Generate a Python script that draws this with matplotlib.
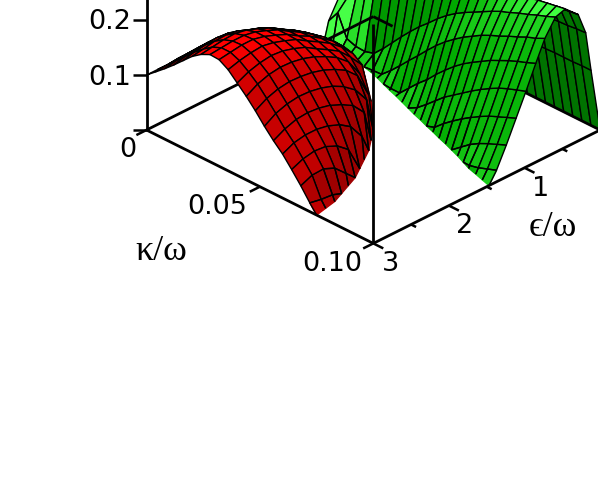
import numpy as np
import matplotlib
matplotlib.use('Agg')
import matplotlib.pyplot as plt
from mpl_toolkits.mplot3d import proj3d
from mpl_toolkits.mplot3d.art3d import Poly3DCollection, Line3DCollection

# green sheet: one row per kappa, values along the green_eps lines and a last 0 on the edge
green_kappa = [0.000, 0.004, 0.008, 0.012, 0.016, 0.020, 0.024, 0.028, 0.032, 0.036, 0.040, 0.044, 0.048,
               0.052, 0.056, 0.060, 0.064, 0.068, 0.072, 0.076, 0.080, 0.084, 0.088, 0.092, 0.096, 0.100]
green_eps = [0.00, 0.12, 0.19, 0.29, 0.46, 0.59, 0.73, 0.85, 0.98, 1.11, 1.24, 1.37, 1.50]
green_edge = [0.650, 0.660, 0.675, 0.690, 0.705, 0.725, 0.750, 0.785, 0.825, 0.865, 0.900, 0.940, 0.980,
              1.020, 1.055, 1.095, 1.130, 1.170, 1.205, 1.245, 1.285, 1.330, 1.375, 1.405, 1.438, 1.470]
green_z = [
    [0, .100, .118, .105, .065, .033, 0],
    [0, .098, .116, .105, .075, .056, 0],
    [0, .098, .116, .108, .088, .017, 0],
    [0, .099, .118, .115, .100, .011, 0],
    [0, .100, .120, .122, .115, .010, 0],
    [0, .101, .124, .130, .130, .015, 0],
    [0, .102, .128, .140, .140, .032, .002, 0],
    [0, .104, .133, .150, .150, .051, .003, 0],
    [0, .106, .140, .160, .165, .070, .018, 0],
    [0, .107, .146, .168, .175, .088, .035, .002, 0],
    [0, .108, .152, .176, .185, .105, .053, .002, 0],
    [0, .109, .156, .182, .192, .120, .070, .019, 0],
    [0, .110, .160, .186, .198, .136, .088, .036, 0],
    [0, .111, .164, .190, .204, .150, .105, .051, .009, 0],
    [0, .112, .167, .194, .210, .162, .120, .069, .023, 0],
    [0, .113, .170, .198, .215, .172, .133, .085, .038, 0],
    [0, .113, .173, .202, .219, .181, .145, .100, .053, .007, 0],
    [0, .114, .176, .206, .223, .190, .155, .113, .065, .022, 0],
    [0, .114, .178, .210, .227, .199, .165, .124, .077, .035, 0],
    [0, .115, .180, .213, .231, .207, .173, .134, .089, .047, 0],
    [0, .115, .182, .216, .235, .213, .180, .144, .100, .058, .013, 0],
    [0, .116, .184, .219, .239, .220, .188, .152, .110, .068, .026, 0],
    [0, .116, .186, .222, .243, .226, .195, .160, .119, .077, .036, .005, 0],
    [0, .116, .187, .225, .246, .233, .203, .167, .126, .084, .044, .009, 0],
    [0, .117, .189, .228, .249, .239, .209, .173, .132, .091, .051, .015, 0],
    [0, .117, .190, .230, .252, .246, .217, .180, .138, .098, .058, .021, 0],
]

# red sheet: one row per eps, values at kappa = 0, 0.004 ... and a last 0 on the edge
red_eps = [0.60, 0.75, 0.90, 1.05, 1.20, 1.35, 1.50, 1.65, 1.80, 1.95, 2.10, 2.25, 2.40, 2.55, 2.70, 2.85, 3.00]
red_kappa = [0.000, 0.004, 0.008, 0.012, 0.016, 0.020, 0.024, 0.028, 0.032, 0.036, 0.040, 0.044, 0.048,
             0.052, 0.056, 0.060, 0.064, 0.068, 0.072, 0.076]
red_edge = [0.000, 0.012, 0.022, 0.031, 0.039, 0.045, 0.050, 0.054, 0.058, 0.061, 0.064, 0.067, 0.069,
            0.071, 0.073, 0.074, 0.075]
red_z = [
    [0],
    [.015, .018, .018, 0],
    [.030, .035, .039, .041, .042, .030, 0],
    [.040, .046, .052, .057, .060, .062, .058, .040, 0],
    [.050, .058, .065, .071, .076, .081, .083, .081, .076, .050, 0],
    [.060, .069, .078, .086, .094, .099, .103, .105, .104, .100, .088, .030, 0],
    [.070, .080, .090, .100, .109, .116, .120, .124, .125, .122, .112, .090, .060, 0],
    [.078, .089, .100, .111, .121, .130, .135, .139, .140, .139, .133, .122, .105, .070, 0],
    [.085, .097, .109, .121, .133, .142, .148, .153, .154, .152, .146, .140, .125, .098, .065, 0],
    [.088, .102, .117, .131, .144, .155, .161, .165, .165, .164, .158, .152, .137, .114, .088, .040, 0],
    [.092, .108, .123, .139, .153, .165, .173, .178, .178, .177, .171, .162, .146, .125, .100, .068, 0],
    [.095, .112, .129, .145, .160, .172, .182, .187, .187, .185, .179, .169, .152, .132, .109, .082, .045, 0],
    [.100, .118, .136, .152, .168, .180, .190, .195, .195, .192, .185, .173, .155, .136, .114, .090, .062, .020, 0],
    [.100, .118, .136, .153, .170, .183, .194, .199, .200, .196, .187, .174, .156, .137, .116, .094, .071, .040, 0],
    [.100, .118, .135, .151, .167, .182, .193, .199, .200, .194, .184, .171, .153, .134, .114, .094, .073, .049, .010, 0],
    [.100, .116, .132, .148, .164, .178, .190, .197, .197, .190, .178, .164, .146, .127, .107, .090, .069, .048, .012, 0],
    [.100, .114, .128, .143, .159, .175, .187, .195, .194, .184, .168, .152, .134, .114, .096, .080, .060, .039, .016, 0],
]

kappa_ticks = [0.0, 0.05, 0.10]
eps_major = [0, 1, 2, 3]
eps_minor = [0.5, 1.5, 2.5]
z_ticks = [0.0, 0.1, 0.2]

SCALE = np.array([321 / 3, 321 / 0.1, 635])
VIEW = np.array([0.612, 0.612, 0.5])
LIGHT = np.array([0.0, -0.3, 0.95])


def green_shade(dot, under, kappa):
    if kappa < 0.008:
        return (0.28, 1, 0.28)
    if kappa < 0.014:
        return (0.16, 0.88, 0.16)
    if under:
        return (0, 0.45, 0)
    g = np.clip(0.32 + 0.8 * dot, 0.6, 1)
    r = np.clip(0.1 + 0.75 * (g - 0.8), 0, 1)
    return (r, g, r)


def red_shade(dot, under, kappa):
    if kappa < 0.018:
        return (0.55, 0, 0)
    if under:
        return (0.62, 0, 0)
    return (np.clip(0.55 + 0.5 * dot, 0.62, 1), 0, 0)


def sheet(ax, rows, steps, edges, zrows, flip, shade, zorder, overlay_from):
    # flip False: rows are kappa, steps are eps. flip True: rows are eps, steps are kappa
    pts, edge = {}, {}
    for i, r in enumerate(rows):
        for j, s in enumerate(steps):
            on_edge = j >= len(zrows[i]) - 1
            b = edges[i] if on_edge else s
            z = 0 if on_edge else zrows[i][j]
            pts[i, j] = (r, b, z) if flip else (b, r, z)
            edge[i, j] = on_edge
    polys, faces, lines_ = [], [], []
    outlines = []
    for i in range(len(rows) - 1):
        for j in range(len(steps) - 1):
            ids = [(i, j), (i + 1, j), (i + 1, j + 1), (i, j + 1)]
            if all(edge[k] for k in ids):
                continue
            v = np.array([pts[k] for k in ids], float)
            n = np.cross((v[2] - v[0]) * SCALE, (v[3] - v[1]) * SCALE)
            n = n / max(np.linalg.norm(n), 1e-9)
            if n[2] < 0:
                n = -n
            under = n @ VIEW < 0
            trimmed = any(edge[k] for k in ids)
            dot = n @ LIGHT
            c = shade(min(dot, 0.6) if trimmed else dot, under, v[:, 1].mean())
            polys.append(v)
            faces.append(c)
            outlines.append(c if trimmed else (0, 0, 0))
            if trimmed and not under and rows[i] >= overlay_from:
                for a, b in zip(ids, ids[1:] + ids[:1]):
                    if not (edge[a] and edge[b]):
                        lines_.append([pts[a], pts[b]])
    coll = Poly3DCollection(polys, facecolors=faces, edgecolors=outlines, linewidths=1.0, zorder=zorder)
    ax.add_collection3d(coll)
    if lines_:
        ax.add_collection3d(Line3DCollection(lines_, colors='k', linewidths=1.0, zorder=zorder + 0.1))


fig = plt.figure(figsize=(5.98, 4.89), dpi=100)
side = 900
ax = fig.add_axes([0, 0, side / 598, side / 489], projection='3d', computed_zorder=False)
ax.set_proj_type('ortho')
ax.view_init(elev=30, azim=45)
ax.set_box_aspect((321, 321, 254))
ax.set_axis_off()

sheet(ax, green_kappa, green_eps, green_edge, green_z, False, green_shade, 2, -1)
sheet(ax, red_eps, red_kappa, red_edge, red_z, True, red_shade, 4, 1.5)


def seg(e, k, z, zo=6, lw=2.0, color='k'):
    ax.plot(e, k, z, color=color, lw=lw, zorder=zo, solid_capstyle='butt')


# back lines: over the green, under the red
seg([3, 0], [0, 0], [0, 0], zo=3)
seg([0, 0], [0, 0.0085], [0, 0], zo=3)
seg([0, 0], [0.067, 0.1], [0, 0], zo=3)
# floor axes and uprights
seg([0, 0], [0.1, 0.1], [0, 0.18], zo=1, color='#c8c8c8')
seg([3, 3], [0, 0.1], [0, 0])
seg([3, 0], [0.1, 0.1], [0, 0])
seg([3, 3], [0, 0], [0, 0.4])
seg([3, 3], [0.1, 0.1], [0, 0.4])
# ticks
for k in kappa_ticks:
    seg([3, 3.134], [k, k], [0, 0], lw=1.8)
for e in eps_major:
    seg([e, e], [0.1, 0.1044], [0, 0], lw=1.8)
for e in eps_minor:
    seg([e, e], [0.1, 0.1022], [0, 0], lw=1.8)
for z in z_ticks:
    seg([3, 3.087], [0, -0.0029], [z, z], lw=1.8)

ax.set_xlim(0, 3)
ax.set_ylim(0, 0.1)
ax.set_zlim(0, 0.4)


def to_px(e, k, z):
    X, Y, _ = proj3d.proj_transform(e, k, z, ax.get_proj())
    return ax.transData.transform((X, Y))


# fit the box onto the picture's corners
fig.canvas.draw()
p0, p1 = to_px(3, 0, 0), to_px(3, 0.1, 0)
side = side * 226.8 / (p1[0] - p0[0])
ax.set_position([0, 0, side / 598, side / 489])
fig.canvas.draw()
p0 = to_px(3, 0, 0)
ax.set_position([(146.5 - p0[0]) / 598, (489 - 131 - p0[1]) / 489, side / 598, side / 489])


def label(x, y, s, size=19.5, family='DejaVu Sans'):
    fig.text(x / 598, 1 - y / 489, s, ha='center', va='center', fontsize=size, family=family)


label(110, 22, '0.2')
label(110, 78, '0.1')
label(128, 150, '0')
label(217, 207, '0.05')
label(332, 264, '0.10')
label(391, 264, '3')
label(465, 226, '2')
label(541, 189, '1')
label(161, 252, 'κ/ω', size=26, family=['Liberation Serif', 'DejaVu Serif'])
label(553, 227, 'ϵ/ω', size=26, family=['Liberation Serif', 'DejaVu Serif'])

fig.savefig('out.png', dpi=100)
